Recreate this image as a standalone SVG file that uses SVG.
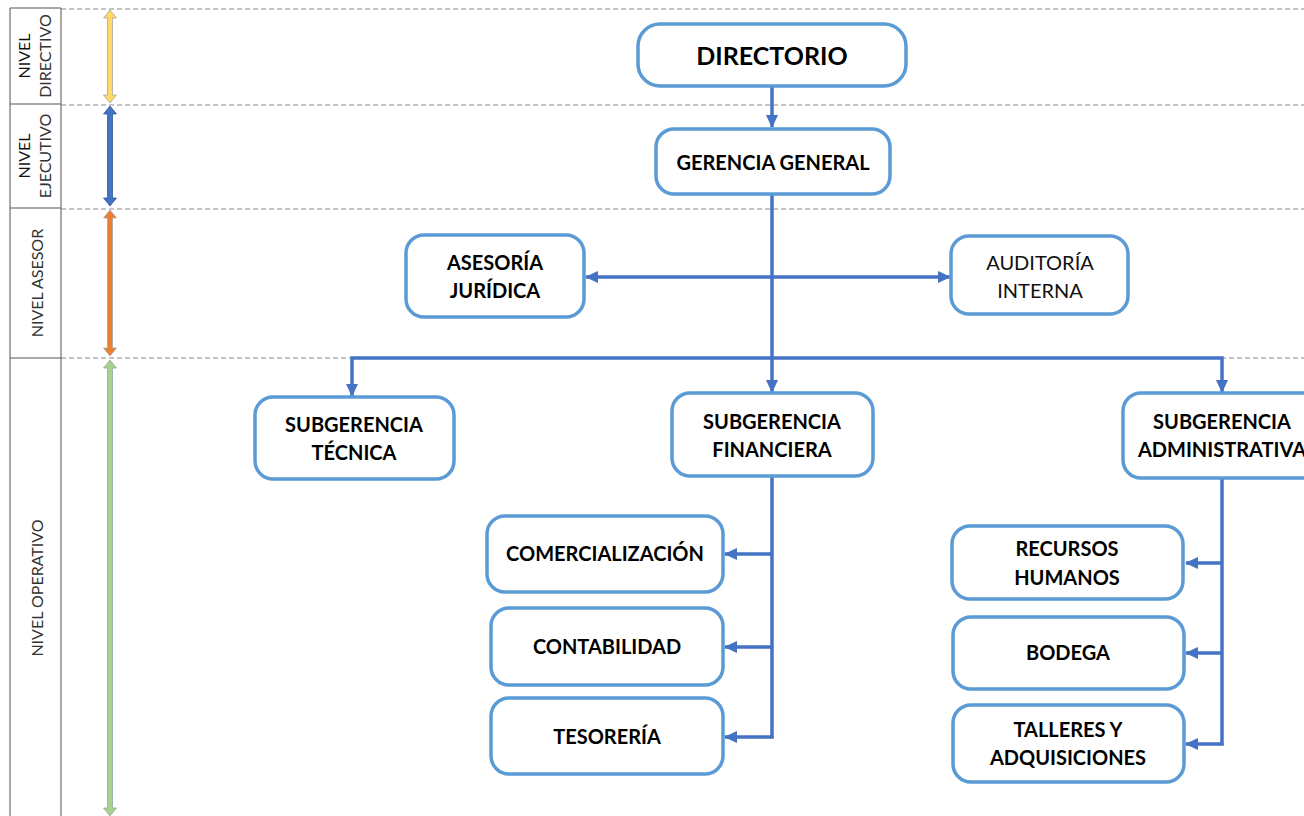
<svg xmlns="http://www.w3.org/2000/svg" width="1304" height="816" viewBox="0 0 1304 816">
<defs>
<style>
.box{fill:#fff;stroke:#5B9BD5;stroke-width:3.5}
.t{font-family:Lato,"Open Sans","Liberation Sans",sans-serif;font-weight:bold;font-size:20px;fill:#000;text-anchor:middle}
.r{font-weight:normal;fill:#111}
.lab{font-family:Lato,"Open Sans","Liberation Sans",sans-serif;font-size:16px;fill:#111;text-anchor:middle}
.lt{fill:#333}
.c{fill:none;stroke:#4472C4;stroke-width:3.5}
.dash{stroke:#888;stroke-width:1;stroke-dasharray:5,3}
.grid{stroke:#555;stroke-width:1;fill:none}
</style>
<marker id="ah" markerUnits="userSpaceOnUse" markerWidth="14" markerHeight="14" viewBox="0 0 14 14" refX="12" refY="7" orient="auto-start-reverse">
<path d="M0,1 L13,7 L0,13 Z" fill="#4472C4"/>
</marker>
</defs>
<rect width="1304" height="816" fill="#fff"/>
<g id="levels">
<line class="dash" x1="61" y1="9" x2="1304" y2="9"/>
<line class="dash" x1="61" y1="105" x2="1304" y2="105"/>
<line class="dash" x1="61" y1="209" x2="1304" y2="209"/>
<line class="dash" x1="61" y1="358" x2="1304" y2="358"/>
<path class="grid" d="M10,816 V8 H61 V816 M10,104 H61 M10,208 H61 M10,358 H61"/>
<text class="lab" transform="translate(30,56) rotate(-90)">NIVEL</text>
<text class="lab lt" transform="translate(51,56) rotate(-90)">DIRECTIVO</text>
<text class="lab" transform="translate(30,156) rotate(-90)">NIVEL</text>
<text class="lab lt" transform="translate(51,156) rotate(-90)">EJECUTIVO</text>
<text class="lab lt" transform="translate(43,283) rotate(-90)">NIVEL ASESOR</text>
<text class="lab lt" transform="translate(43,588) rotate(-90)">NIVEL OPERATIVO</text>
<polygon points="110,10 116.5,18 112.5,18 112.5,95 116.5,95 110,103 103.5,95 107.5,95 107.5,18 103.5,18" fill="#FFD966" stroke="#A6A6A6" stroke-width="0.8"/>
<polygon points="110,106 116.5,114 112.5,114 112.5,198 116.5,198 110,206 103.5,198 107.5,198 107.5,114 103.5,114" fill="#4472C4" stroke="#2F5597" stroke-width="0.8"/>
<polygon points="110,210 116.5,218 112.5,218 112.5,348 116.5,348 110,356 103.5,348 107.5,348 107.5,218 103.5,218" fill="#ED7D31" stroke="#A6A6A6" stroke-width="0.8"/>
<polygon points="110,360 116.5,368 112.5,368 112.5,808 116.5,808 110,816 103.5,808 107.5,808 107.5,368 103.5,368" fill="#A9D18E" stroke="#8FA8A0" stroke-width="0.8"/>
</g>
<g id="connectors">
<line class="c" x1="772" y1="86" x2="772" y2="127" marker-end="url(#ah)"/>
<line class="c" x1="772" y1="194" x2="772" y2="392" marker-end="url(#ah)"/>
<line class="c" x1="586" y1="277" x2="950" y2="277" marker-start="url(#ah)" marker-end="url(#ah)"/>
<polyline class="c" points="352,396 352,358 1222,358 1222,392" marker-start="url(#ah)" marker-end="url(#ah)"/>
<line class="c" x1="772" y1="476" x2="772" y2="738"/>
<line class="c" x1="772" y1="554" x2="725" y2="554" marker-end="url(#ah)"/>
<line class="c" x1="772" y1="647" x2="725" y2="647" marker-end="url(#ah)"/>
<polyline class="c" points="772,736.5 772,737 725,737" marker-end="url(#ah)"/>
<line class="c" x1="1222" y1="478" x2="1222" y2="745"/>
<line class="c" x1="1222" y1="563" x2="1186" y2="563" marker-end="url(#ah)"/>
<line class="c" x1="1222" y1="653" x2="1186" y2="653" marker-end="url(#ah)"/>
<polyline class="c" points="1222,743.5 1222,744 1186,744" marker-end="url(#ah)"/>
</g>
<g id="directorio">
<rect class="box" x="638" y="24" width="268" height="62" rx="22"/>
<text class="t" x="772" y="65" style="font-size:25px">DIRECTORIO</text>
</g>
<g id="gerencia-general">
<rect class="box" x="656" y="129" width="234" height="65" rx="18"/>
<text class="t" x="773" y="170">GERENCIA GENERAL</text>
</g>
<g id="asesoria-juridica">
<rect class="box" x="406" y="235" width="178" height="82" rx="18"/>
<text class="t" x="495" y="270">ASESORÍA</text>
<text class="t" x="495" y="298">JURÍDICA</text>
</g>
<g id="auditoria-interna">
<rect class="box" x="951" y="236" width="177" height="78" rx="18"/>
<text class="t r" x="1040" y="270">AUDITORÍA</text>
<text class="t r" x="1040" y="298">INTERNA</text>
</g>
<g id="subgerencia-tecnica">
<rect class="box" x="255" y="397" width="199" height="82" rx="18"/>
<text class="t" x="354" y="432">SUBGERENCIA</text>
<text class="t" x="354" y="460">TÉCNICA</text>
</g>
<g id="subgerencia-financiera">
<rect class="box" x="672" y="393" width="201" height="83" rx="18"/>
<text class="t" x="772" y="429">SUBGERENCIA</text>
<text class="t" x="772" y="457">FINANCIERA</text>
</g>
<g id="subgerencia-administrativa">
<rect class="box" x="1123" y="393" width="200" height="85" rx="18"/>
<text class="t" x="1222" y="429">SUBGERENCIA</text>
<text class="t" x="1222" y="457">ADMINISTRATIVA</text>
</g>
<g id="comercializacion">
<rect class="box" x="487" y="516" width="236" height="76" rx="18"/>
<text class="t" x="605" y="561">COMERCIALIZACIÓN</text>
</g>
<g id="contabilidad">
<rect class="box" x="491" y="608" width="232" height="77" rx="18"/>
<text class="t" x="607" y="654">CONTABILIDAD</text>
</g>
<g id="tesoreria">
<rect class="box" x="491" y="698" width="232" height="76" rx="18"/>
<text class="t" x="607" y="744">TESORERÍA</text>
</g>
<g id="recursos-humanos">
<rect class="box" x="952" y="526" width="231" height="73" rx="18"/>
<text class="t" x="1067" y="556">RECURSOS</text>
<text class="t" x="1067" y="585">HUMANOS</text>
</g>
<g id="bodega">
<rect class="box" x="953" y="617" width="231" height="72" rx="18"/>
<text class="t" x="1068" y="660">BODEGA</text>
</g>
<g id="talleres-adquisiciones">
<rect class="box" x="953" y="705" width="231" height="77" rx="18"/>
<text class="t" x="1068" y="737">TALLERES Y</text>
<text class="t" x="1068" y="765">ADQUISICIONES</text>
</g>
</svg>
